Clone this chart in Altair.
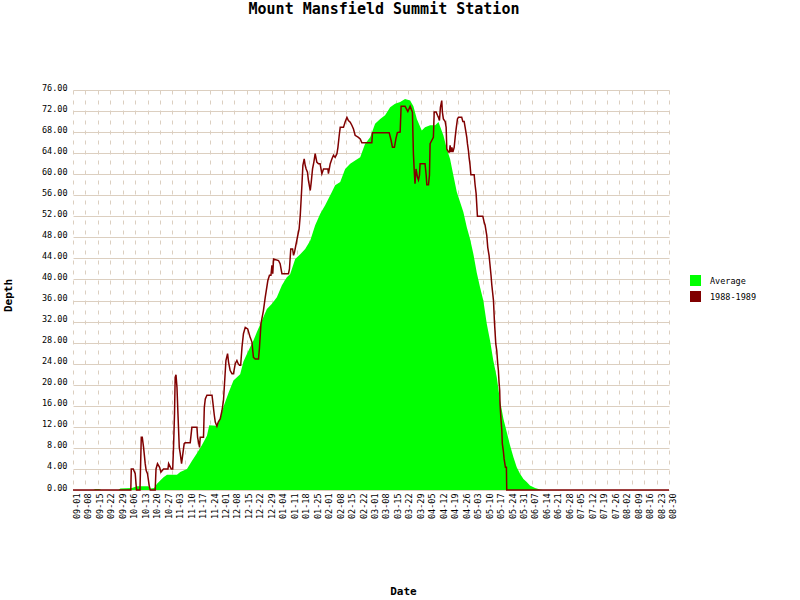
import json
import altair as alt
import pandas as pd

title_text = "Mount Mansfield Summit Station"
series_names = ["Average", "1988-1989"]
series_colors = ["#00ff00", "#800000"]

date_labels = [
    "09-01", "09-08", "09-15", "09-22", "09-29", "10-06", "10-13", "10-20", "10-27",
    "11-03", "11-10", "11-17", "11-24", "12-01", "12-08", "12-15", "12-22", "12-29",
    "01-04", "01-11", "01-18", "01-25", "02-01", "02-08", "02-15", "02-22",
    "03-01", "03-08", "03-15", "03-22", "03-29", "04-05", "04-12", "04-19", "04-26",
    "05-03", "05-10", "05-17", "05-24", "05-31", "06-07", "06-14", "06-21", "06-28",
    "07-05", "07-12", "07-19", "07-26", "08-02", "08-09", "08-16", "08-23", "08-30",
]
y_ticks = list(range(0, 77, 4))

# Average depth (day index from 09-01, value)
avg_day = [0, 12.4, 13.6, 16.0, 17.3, 27.7, 28.9, 36.0, 39.0, 46.0, 47.2, 49.6, 51.3, 53.3,
           55.3, 57.4, 63.5, 65.5, 69.6, 72.6, 75.7, 78.7, 81.8, 83.2, 87.5, 89.9, 91.9, 95.0,
           98.0, 102.1, 104.1, 107.2, 110.2, 112.3, 115.4, 118.4, 121.5, 124.5, 127.6, 130.6,
           132.6, 135.7, 138.8, 141.8, 144.9, 147.9, 151.0, 154.0, 158.1, 160.1, 163.2, 166.2,
           169.3, 172.3, 175.4, 178.4, 181.5, 184.5, 187.6, 190.6, 193.7, 196.7, 199.8, 202.8,
           205.9, 207.9, 210.0, 213.0, 215.0, 218.1, 221.2, 223.2, 226.2, 228.3, 230.3, 232.3,
           234.4, 236.4, 238.4, 240.5, 242.5, 244.5, 246.6, 248.6, 250.6, 252.7, 254.7, 256.7,
           258.8, 260.8, 262.9, 264.9, 266.9, 269.0, 271.0, 273.0, 275.1, 277.1, 279.1, 282.2,
           285.2, 287.0, 364]
avg_val = [0, 0, 0.2, 0.2, 0, 0, 0.3, 0.4, 0.7, 0.7, 0.3, 0.4, 1.2, 1.8,
           2.4, 2.9, 2.9, 3.4, 4.0, 5.5, 7.0, 8.5, 10.3, 12.3, 12.2, 13.5, 15.8, 18.5,
           20.8, 22.0, 24.4, 26.5, 28.4, 30.0, 32.2, 34.4, 35.4, 36.6, 38.9, 40.4,
           41.0, 43.9, 44.8, 45.8, 47.4, 50.3, 52.5, 54.1, 56.6, 57.9, 58.5, 61.0,
           62.0, 62.6, 63.2, 65.8, 67.0, 69.6, 70.5, 71.2, 72.7, 73.4, 73.7, 74.3,
           74.0, 72.9, 70.5, 68.3, 68.9, 69.3, 69.3, 69.9, 67.4, 64.8, 62.9, 59.8,
           56.6, 54.7, 52.8, 49.9, 47.7, 44.9, 41.3, 38.5, 36.0, 31.6, 28.4, 24.6,
           21.4, 17.0, 13.5, 11.0, 8.5, 6.2, 4.3, 3.1, 2.1, 1.5, 0.85, 0.4,
           0.1, 0, 0]

# 1988-1989 season
obs_day = [0, 35.3, 35.6, 36.8, 38.0, 38.8, 40.9, 41.7, 42.3, 43.1, 44.1, 44.7, 45.5, 46.6,
           47.2, 50.2, 50.7, 51.6, 52.9, 53.7, 54.5, 55.3, 58.0, 58.4, 60.0, 60.9, 61.4, 62.0,
           62.4, 62.9, 63.5, 64.1, 64.9, 65.5, 66.3, 67.1, 67.9, 68.5, 71.6, 72.6, 75.7, 76.1,
           77.3, 77.7, 79.7, 80.2, 80.8, 81.8, 84.9, 85.5, 86.3, 86.9, 87.9, 88.7, 89.9, 91.0,
           91.9, 92.5, 93.4, 94.4, 95.0, 96.0, 97.1, 98.0, 99.1, 100.1, 100.9, 101.7, 102.4,
           103.2, 104.1, 105.2, 106.7, 108.2, 109.3, 110.2, 111.3, 113.3, 113.9, 114.8, 116.3,
           117.4, 119.0, 120.0, 120.9, 121.5, 122.0, 122.5, 125.5, 126.5, 127.6, 131.6, 132.2,
           133.0, 134.1, 134.7, 135.3, 136.1, 137.3, 138.1, 138.8, 139.8, 140.4, 141.2, 141.8,
           142.4, 143.2, 143.8, 144.9, 145.5, 146.3, 147.1, 147.9, 148.9, 149.9, 150.9, 152.0,
           153.0, 155.7, 156.0, 157.1, 158.1, 159.1, 160.1, 161.2, 161.8, 162.6, 163.2, 165.2,
           166.2, 167.3, 168.2, 169.3, 170.3, 171.3, 172.3, 174.3, 175.4, 176.4, 182.5, 182.9,
           193.1, 194.3, 195.1, 196.3, 197.2, 198.1, 199.8, 200.4, 202.8, 204.5, 205.9, 207.3,
           207.9, 208.5, 208.9, 209.5, 210.4, 211.0, 211.6, 212.0, 215.0, 215.7, 216.1, 217.1,
           217.7, 218.1, 219.1, 220.1, 220.6, 221.8, 222.6, 223.2, 223.8, 224.4, 225.2, 225.6,
           226.2, 227.3, 227.9, 228.3, 229.3, 229.9, 230.3, 230.9, 231.4, 232.0, 232.8, 233.4,
           234.0, 234.8, 235.4, 237.4, 238.1, 238.9, 239.5, 240.5, 240.9, 241.5, 241.9, 242.5,
           243.0, 245.0, 245.6, 246.2, 247.0, 250.3, 251.1, 251.7, 252.7, 253.3, 254.1, 254.7,
           255.3, 255.8, 256.8, 257.4, 258.2, 258.8, 259.4, 259.8, 260.2, 260.6, 260.8, 261.3,
           261.9, 262.2, 262.8, 263.3, 264.1, 264.7, 264.9, 364]
obs_val = [0, 0, 4.0, 4.0, 3.1, 0, 0, 10.0, 10.0, 8.1, 5.0, 3.7, 3.1, 0.7,
           0, 0, 4.0, 5.0, 4.3, 3.4, 3.7, 4.0, 4.0, 5.0, 4.0, 4.0, 8.1, 14.5,
           21.4, 21.9, 19.5, 14.5, 8.1, 6.9, 5.0, 6.9, 8.8, 9.0, 9.0, 11.9, 11.9, 10.0,
           8.1, 10.0, 10.0, 15.7, 17.3, 18.0, 18.0, 16.4, 14.2, 12.9, 12.1, 12.9, 13.5, 15.1,
           17.0, 20.0, 24.6, 25.9, 24.3, 22.7, 22.1, 22.1, 24.0, 24.6, 24.0, 23.7, 23.7,
           27.1, 29.7, 30.9, 30.6, 29.0, 28.1, 25.2, 24.9, 24.9, 27.1, 31.6, 34.1,
           36.6, 39.8, 40.8, 40.8, 42.7, 41.1, 43.9, 43.6, 43.0, 41.1, 41.1, 42.0,
           45.8, 45.8, 44.6, 45.2, 46.5, 48.4, 49.6, 52.2, 57.9, 61.7, 62.9, 61.7,
           61.0, 60.4, 58.8, 56.9, 58.5, 61.0, 62.3, 63.9, 62.3, 62.0, 62.0, 60.1,
           61.0, 61.0, 60.1, 62.0, 62.9, 63.6, 63.2, 63.9, 65.1, 67.4, 68.9, 68.9,
           69.9, 70.8, 70.2, 69.9, 69.3, 68.6, 67.4, 67.0, 66.7, 66.0, 66.0, 67.9,
           67.9, 66.4, 65.1, 65.1, 66.7, 67.9, 68.0, 72.9, 72.9, 71.9, 72.9, 71.8,
           63.9, 60.1, 58.2, 61.0, 59.4, 58.9, 59.8, 62.0, 62.0, 59.8, 58.0, 58.0,
           59.8, 65.8, 66.4, 67.0, 71.8, 71.8, 71.2, 70.8, 70.2, 72.7, 74.0, 71.8,
           70.5, 70.0, 68.9, 64.8, 64.2, 64.2, 65.5, 64.2, 65.1, 64.2, 65.1, 67.0,
           68.6, 70.5, 70.8, 70.8, 70.0, 70.0, 68.9, 67.0, 65.8, 64.5, 63.2, 61.7,
           59.9, 59.9, 57.9, 56.3, 52.0, 52.0, 50.9, 50.3, 48.4, 46.1, 44.6, 42.7,
           40.8, 38.9, 36.0, 31.9, 27.8, 26.5, 24.0, 22.7, 20.5, 18.9, 16.4, 13.8,
           11.3, 8.8, 7.5, 5.9, 4.3, 4.3, 0, 0]

assert len(avg_day) == len(avg_val)
assert len(obs_day) == len(obs_val)

df = pd.concat([
    pd.DataFrame({"day": avg_day, "depth": avg_val, "series": series_names[0]}),
    pd.DataFrame({"day": obs_day, "depth": obs_val, "series": series_names[1]}),
], ignore_index=True)

tick_days = [7 * i for i in range(len(date_labels))]
grid_days = [364 * i / 48 for i in range(49)]
label_expr = json.dumps(date_labels) + "[round(datum.value / 7)]"

mono = "DejaVu Sans Mono"
grid_color = "#dccfc0"

xscale = alt.Scale(domain=[0, 364], nice=False, zero=False)
yscale = alt.Scale(domain=[0, 76], nice=False)
color_scale = alt.Scale(domain=series_names, range=series_colors)

y_axis = alt.Axis(
    values=y_ticks, format=".2f", grid=True, gridColor=grid_color, gridWidth=1,
    ticks=False, tickSize=0, domain=False, labelFont=mono, labelFontSize=8.5,
    labelColor="black", labelPadding=6, labelBaseline="alphabetic", labelFlush=False,
    labelOverlap=False,
    title="Depth", titleFont=mono, titleFontSize=11, titleFontWeight="bold",
    titleColor="black", titleAngle=270, titleX=-65, titleY=205, titleAlign="center",
    titleBaseline="middle")

base = alt.Chart(df)

area = base.transform_filter(alt.datum.series == series_names[0]).mark_area(
    interpolate="linear", opacity=1
).encode(
    x=alt.X("day:Q", scale=xscale, axis=alt.Axis(
        values=grid_days, grid=True, gridDash=[4, 6], gridColor=grid_color, gridWidth=1,
        labels=False, ticks=False, domain=False, title=None, orient="bottom")),
    y=alt.Y("depth:Q", scale=yscale, axis=y_axis),
    color=alt.Color("series:N", scale=color_scale, legend=alt.Legend(
        title=None, orient="none", legendX=617, legendY=185, symbolType="square",
        symbolSize=121, symbolStrokeWidth=0, labelFont=mono, labelFontSize=8.5,
        labelColor="black", rowPadding=5, labelOffset=9, padding=0)),
)

line = base.transform_filter(alt.datum.series == series_names[1]).mark_line(
    strokeWidth=1.5, interpolate="linear"
).encode(
    x=alt.X("day:Q", scale=xscale, axis=alt.Axis(
        values=tick_days, labelExpr=label_expr, labelAngle=270, grid=False,
        gridOpacity=0, ticks=False,
        tickSize=0, domain=False, labelFont=mono, labelFontSize=8.5, labelColor="black",
        labelPadding=3, labelOffset=3.5, labelOverlap=False, labelFlush=False,
        labelBound=False, orient="bottom",
        title="Date", titleFont=mono, titleFontSize=11, titleFontWeight="bold",
        titleColor="black", titleX=330, titleY=101, titleAlign="center",
        titleBaseline="middle")),
    y=alt.Y("depth:Q", scale=yscale, axis=y_axis),
    color=alt.Color("series:N", scale=color_scale, legend=None),
)

chart = alt.layer(area, line).resolve_axis(x="independent").properties(
    width=596,
    height=400,
    autosize=alt.AutoSizeParams(type="none"),
    padding={"left": 73, "top": 90, "right": 131, "bottom": 110},
    background="white",
    title=alt.Title(title_text, font=mono, fontSize=15, fontWeight="bold", color="black",
                    anchor="middle", offset=66, baseline="middle", dx=13, dy=7),
).configure_view(strokeWidth=0)

chart.save("out.html", embed_options={"renderer": "svg", "actions": False})
